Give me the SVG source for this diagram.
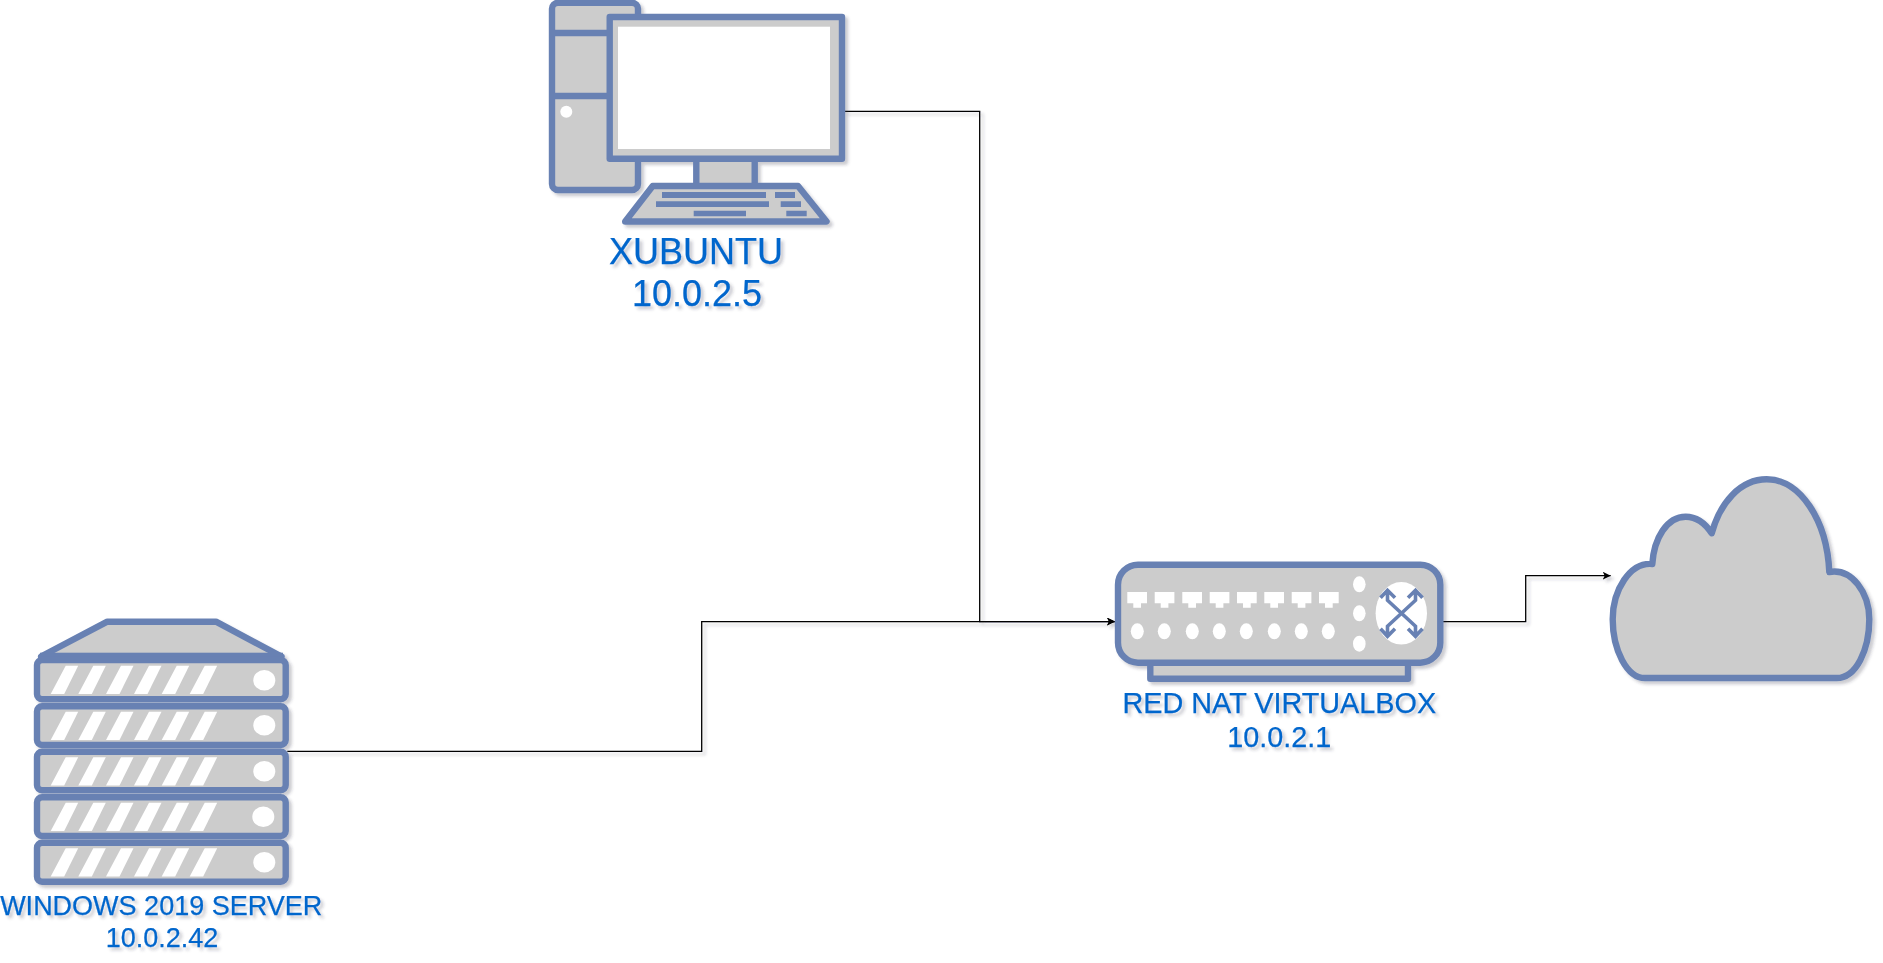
<svg xmlns="http://www.w3.org/2000/svg" xmlns:xlink="http://www.w3.org/1999/xlink" width="1883" height="963" viewBox="0 0 1883 963">
<style>
.s{fill:#ccc;stroke:#6881b3;stroke-width:6.400;stroke-linejoin:round}
.k{fill:#6881b3}
.w{fill:#fff}
.c{fill:none;stroke:#000;stroke-width:1.300}
.t{font-family:"Liberation Sans",Arial,sans-serif;fill:#0066cc;text-anchor:middle;stroke:#0066cc;stroke-width:0.250}
</style>
<defs>
<filter id="sh" x="-5%" y="-5%" width="115%" height="115%"><feDropShadow dx="3" dy="3" stdDeviation="1.600" flood-color="#334" flood-opacity="0.250"/></filter>
<marker id="ah" markerUnits="userSpaceOnUse" markerWidth="9" markerHeight="9" refX="8" refY="4" orient="auto"><path d="M0 0L8 4L0 8L2 4Z" fill="#000"/></marker>
<g id="slash"><path d="M0 34H13.500L27.500 5.700H15Z" class="w"/></g>
<g id="unitw"><use xlink:href="#slash" x="50.700"/><use xlink:href="#slash" x="78.300"/><use xlink:href="#slash" x="106"/><use xlink:href="#slash" x="134"/><use xlink:href="#slash" x="161.700"/><use xlink:href="#slash" x="189.700"/></g>
<g id="port"><path d="M0 0H19.700V11.300H13.700V15.700H6V11.300H0Z" class="w"/></g>
<g id="arm"><path d="M0 0L14 -13V-23M6.500 -15.500L14 -23L21 -15.500" fill="none" stroke="#6881b3" stroke-width="3.600"/></g>
</defs>
<g id="connectors" filter="url(#sh)">
<path class="c" d="M287.300 751.300H701.700V621.600H1115" marker-end="url(#ah)"/>
<path class="c" d="M844.700 111.300H979.700V621.600H1115" marker-end="url(#ah)"/>
<path class="c" d="M1442.700 621.600H1525.700V575.700H1610.700" marker-end="url(#ah)"/>
</g>
<g id="xubuntu">
<g filter="url(#sh)">
<rect class="s" x="552" y="2.700" width="86" height="187.300" rx="6"/>
<path class="s" d="M552 33H610M552 96H610" fill="none"/>
<circle class="w" cx="566.300" cy="111.700" r="6"/>
<rect class="s" x="696.300" y="158.700" width="58.400" height="28"/>
<rect class="s" x="609.700" y="17" width="232.300" height="141.700"/>
<rect class="w" x="618" y="26.700" width="212" height="122.300"/>
<path class="s" d="M652.700 186H798L826.500 221.500H625.200Z"/>
<path class="k" d="M662 192H766V198H662ZM775 192H795V198H775ZM656 201.300H769V207H656ZM780.700 201.300H801V207H780.700ZM693.700 210.700H746V216.300H693.700ZM786.300 210.700H806.700V216.300H786.300Z"/>
</g>
<text class="t" filter="url(#sh)" font-size="36" x="696" y="264">XUBUNTU</text>
<text class="t" filter="url(#sh)" font-size="36" x="697" y="306">10.0.2.5</text>
</g>
<g id="windows-server">
<g filter="url(#sh)">
<path class="s" d="M107.300 621.700H216L281.500 656.500H41Z"/>
<rect class="k" x="40" y="652.700" width="243" height="9"/>
<rect class="s" x="37" y="660" width="248.700" height="39.300" rx="5"/>
<rect class="s" x="37" y="706.300" width="248.700" height="38.700" rx="5"/>
<rect class="s" x="37" y="751.700" width="248.700" height="38.600" rx="5"/>
<rect class="s" x="37" y="797.300" width="248.700" height="38.700" rx="5"/>
<rect class="s" x="37" y="842.700" width="248.700" height="39" rx="5"/>
<use xlink:href="#unitw" y="660"/>
<use xlink:href="#unitw" y="706"/>
<use xlink:href="#unitw" y="751.500"/>
<use xlink:href="#unitw" y="797"/>
<use xlink:href="#unitw" y="842.500"/>
<ellipse class="w" cx="264.300" cy="680.300" rx="11" ry="10.300"/>
<ellipse class="w" cx="264.300" cy="725.300" rx="11" ry="10.300"/>
<ellipse class="w" cx="264.300" cy="771.300" rx="11" ry="10.300"/>
<ellipse class="w" cx="263.300" cy="816.700" rx="11" ry="10.300"/>
<ellipse class="w" cx="264.300" cy="862.300" rx="11" ry="10.300"/>
</g>
<text class="t" filter="url(#sh)" font-size="27" x="161.200" y="915">WINDOWS 2019 SERVER</text>
<text class="t" filter="url(#sh)" font-size="27" x="162" y="947">10.0.2.42</text>
</g>
<g id="router">
<g filter="url(#sh)">
<rect class="s" x="1150.300" y="650" width="257.700" height="28.700"/>
<rect class="s" x="1118" y="564.700" width="322.300" height="98" rx="20"/>
<use xlink:href="#port" x="1127.300" y="592"/>
<use xlink:href="#port" x="1154.700" y="592"/>
<use xlink:href="#port" x="1182.300" y="592"/>
<use xlink:href="#port" x="1209.700" y="592"/>
<use xlink:href="#port" x="1237" y="592"/>
<use xlink:href="#port" x="1264.300" y="592"/>
<use xlink:href="#port" x="1291.700" y="592"/>
<use xlink:href="#port" x="1319" y="592"/>
<g class="w">
<ellipse cx="1137.300" cy="631.300" rx="6.500" ry="8"/>
<ellipse cx="1164.300" cy="631.300" rx="6.500" ry="8"/>
<ellipse cx="1192.300" cy="631.300" rx="6.500" ry="8"/>
<ellipse cx="1219.300" cy="631.300" rx="6.500" ry="8"/>
<ellipse cx="1246.300" cy="631.300" rx="6.500" ry="8"/>
<ellipse cx="1274.300" cy="631.300" rx="6.500" ry="8"/>
<ellipse cx="1301.300" cy="631.300" rx="6.500" ry="8"/>
<ellipse cx="1328.300" cy="631.300" rx="6.500" ry="8"/>
<ellipse cx="1359.300" cy="584.300" rx="6.300" ry="8"/>
<ellipse cx="1359.300" cy="613.300" rx="6.300" ry="8"/>
<ellipse cx="1359.300" cy="643.700" rx="6.300" ry="8"/>
<ellipse cx="1401.300" cy="613.300" rx="25.700" ry="31.300"/>
</g>
<use xlink:href="#arm" transform="translate(1401.500 613.300)"/>
<use xlink:href="#arm" transform="translate(1401.500 613.300) scale(-1 1)"/>
<use xlink:href="#arm" transform="translate(1401.500 613.300) scale(1 -1)"/>
<use xlink:href="#arm" transform="translate(1401.500 613.300) scale(-1 -1)"/>
</g>
<text class="t" filter="url(#sh)" font-size="28.800" x="1279.300" y="713.300">RED NAT VIRTUALBOX</text>
<text class="t" filter="url(#sh)" font-size="28.800" x="1279.300" y="747.300">10.0.2.1</text>
</g>
<g id="cloud">
<path class="s" filter="url(#sh)" d="M1645 678H1836.700C1856 678 1869.300 650 1869.300 619.300C1869.300 593 1852 568 1829.300 572C1827 520 1800 479.300 1766.700 479.300C1740 479.300 1720 503 1711.700 533.300C1705 523 1697 516.700 1685.700 516.700C1667 516.700 1654 538 1652.300 564C1630 562 1612.700 590 1612.700 619.300C1612.700 650 1627 678 1645 678Z"/>
</g>
</svg>
